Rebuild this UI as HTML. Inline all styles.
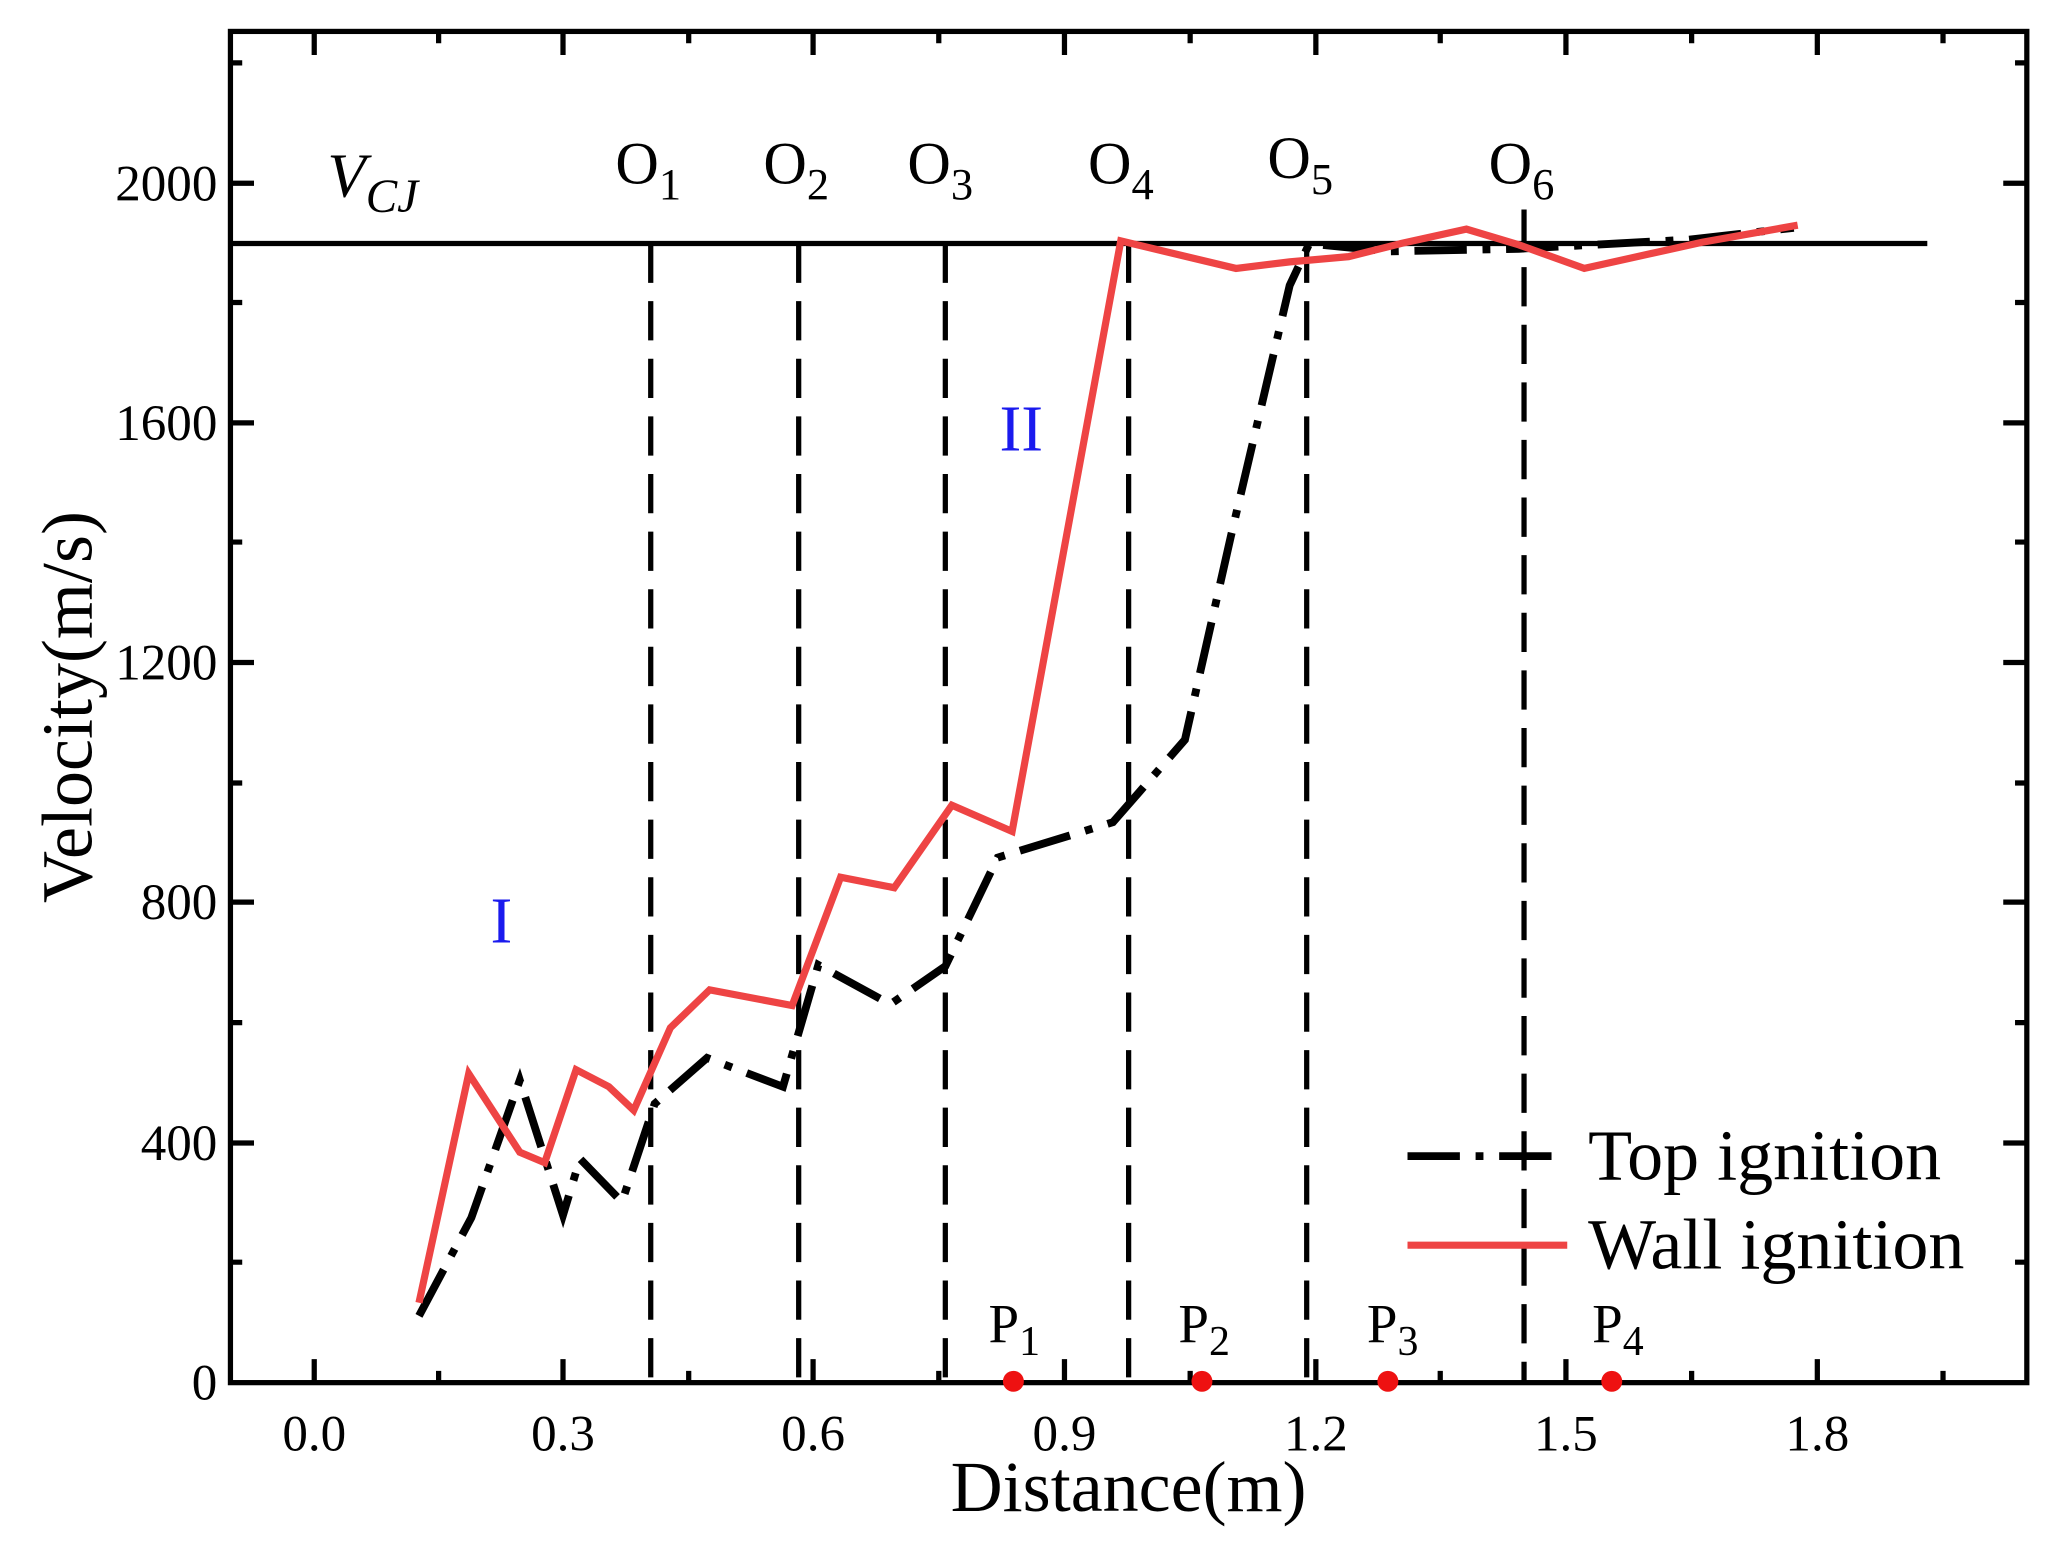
<!DOCTYPE html>
<html><head><meta charset="utf-8"><style>html,body{margin:0;padding:0;background:#fff}svg{display:block}</style></head>
<body>
<svg width="2053" height="1545" viewBox="0 0 1568 1180" preserveAspectRatio="none" xmlns="http://www.w3.org/2000/svg" font-family="Liberation Serif, serif">
<rect width="1568" height="1180" fill="#fff"/>
<line x1="176" y1="186" x2="1472" y2="186" stroke="#000" stroke-width="4"/>
<g stroke="#000" stroke-width="4" stroke-dasharray="30,14">
<line x1="497" y1="186" x2="497" y2="1056"/>
<line x1="610" y1="186" x2="610" y2="1056"/>
<line x1="722" y1="186" x2="722" y2="1056"/>
<line x1="862" y1="186" x2="862" y2="1056"/>
<line x1="998" y1="186" x2="998" y2="1056"/>
<line x1="1164" y1="160" x2="1164" y2="1056"/>
</g>
<polyline fill="none" stroke="#000" stroke-width="6" stroke-dasharray="40,12,6,12" points="320,1005 360,930 397,825 430,928 443,885 475,918 500,843 540,808 598,830 625,737 680,767 722,738 762,655 850,628 905,565 940,410 985,218 1000,186 1060,192 1160,190 1290,183 1370,174"/>
<polyline fill="none" stroke="#ee4444" stroke-width="5.5" points="320,995 358,820 397,880 416,888 440,817 465,830 484,848 512,785 542,756 605,768 642,670 683,678 727,615 773,635 856,184 944,205 985,200 1030,196 1070,186 1120,175 1160,187 1210,205 1300,185 1373,172"/>
<rect x="176" y="24" width="1372" height="1032" fill="none" stroke="#000" stroke-width="4"/>
<g stroke="#000" stroke-width="4">
<path d="M240,1056v-18M430,1056v-18M621,1056v-18M813,1056v-18M1005,1056v-18M1196,1056v-18M1388,1056v-18
M240,24v18M430,24v18M621,24v18M813,24v18M1005,24v18M1196,24v18M1388,24v18
M335,1056v-9M526,1056v-9M717,1056v-9M909,1056v-9M1100,1056v-9M1292,1056v-9M1484,1056v-9
M335,24v9M526,24v9M717,24v9M909,24v9M1100,24v9M1292,24v9M1484,24v9"/>
<path d="M176,873h18M176,689h18M176,506h18M176,323h18M176,140h18
M1548,873h-18M1548,689h-18M1548,506h-18M1548,323h-18M1548,140h-18
M176,964h9M176,781h9M176,598h9M176,414h9M176,231h9M176,48h9
M1548,964h-9M1548,781h-9M1548,598h-9M1548,414h-9M1548,231h-9M1548,48h-9"/>
</g>
<g font-size="39" text-anchor="end">
<text x="166" y="1069">0</text><text x="166" y="886">400</text><text x="166" y="702">800</text><text x="166" y="519">1200</text><text x="166" y="336">1600</text><text x="166" y="153">2000</text>
</g>
<g font-size="39" text-anchor="middle">
<text x="240" y="1108">0.0</text><text x="430" y="1108">0.3</text><text x="621" y="1108">0.6</text><text x="813" y="1108">0.9</text><text x="1005" y="1108">1.2</text><text x="1196" y="1108">1.5</text><text x="1388" y="1108">1.8</text>
</g>
<text x="862" y="1154" font-size="55" text-anchor="middle">Distance(m)</text>
<text transform="translate(70,540) rotate(-90)" font-size="55" text-anchor="middle">Velocity(m/s)</text>
<text x="250" y="150" font-size="48" font-style="italic">V<tspan font-size="36" dy="12">CJ</tspan></text>
<g font-size="46">
<text x="470" y="140">O<tspan font-size="34" dy="12">1</tspan></text>
<text x="583" y="140">O<tspan font-size="34" dy="12">2</tspan></text>
<text x="693" y="140">O<tspan font-size="34" dy="12">3</tspan></text>
<text x="831" y="140">O<tspan font-size="34" dy="12">4</tspan></text>
<text x="968" y="136">O<tspan font-size="34" dy="12">5</tspan></text>
<text x="1137" y="140">O<tspan font-size="34" dy="12">6</tspan></text>
</g>
<g font-size="42">
<text x="755" y="1025">P<tspan font-size="32" dy="10">1</tspan></text>
<text x="900" y="1025">P<tspan font-size="32" dy="10">2</tspan></text>
<text x="1044" y="1025">P<tspan font-size="32" dy="10">3</tspan></text>
<text x="1216" y="1025">P<tspan font-size="32" dy="10">4</tspan></text>
</g>
<g fill="#ee1111">
<circle cx="774" cy="1055" r="8"/><circle cx="918" cy="1055" r="8"/><circle cx="1060" cy="1055" r="8"/><circle cx="1231" cy="1055" r="8"/>
</g>
<text x="383" y="720" font-size="50" fill="#1a1aee" text-anchor="middle">I</text>
<text x="780" y="344" font-size="50" fill="#1a1aee" text-anchor="middle">II</text>
<line x1="1075" y1="883" x2="1197" y2="883" stroke="#000" stroke-width="6" stroke-dasharray="40,12,6,12"/>
<text x="1213" y="901" font-size="55">Top ignition</text>
<line x1="1075" y1="951" x2="1197" y2="951" stroke="#ee4444" stroke-width="5.5"/>
<text x="1213" y="969" font-size="55">Wall ignition</text>
</svg>
</body></html>
